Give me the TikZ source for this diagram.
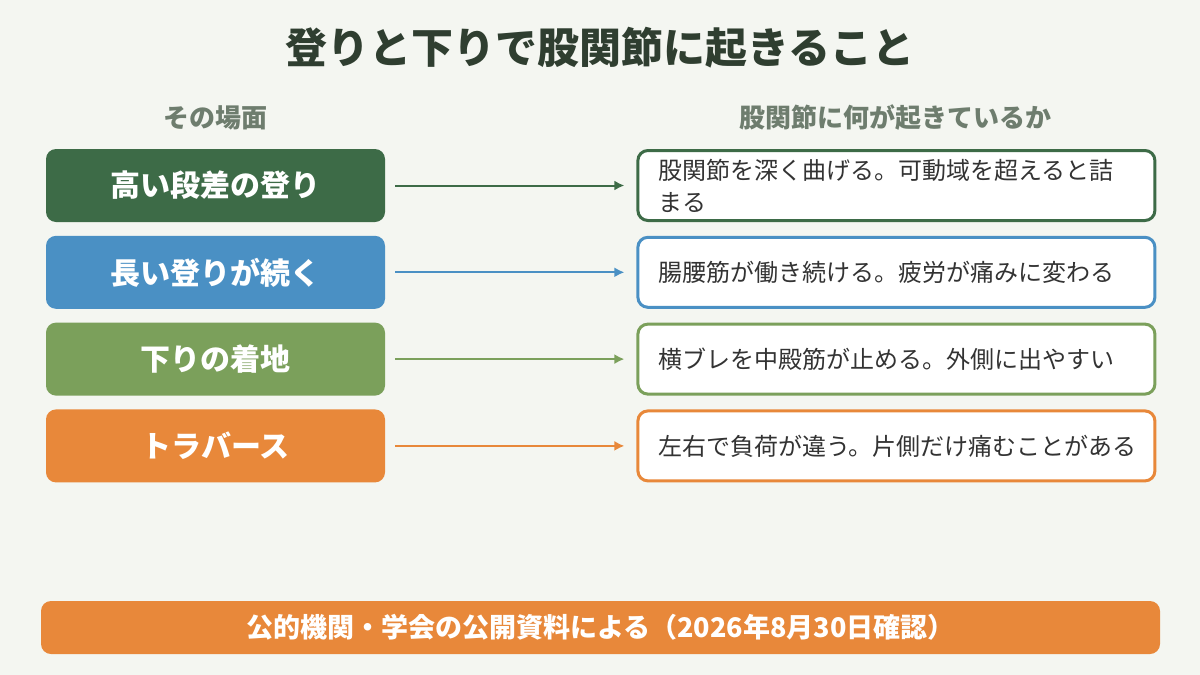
\documentclass[tikz,border=0pt]{standalone}
\usepackage{fontspec}
\setmainfont{Noto Sans CJK JP}
\usepackage{xcolor}
\usepackage{tikz}
\usetikzlibrary{arrows.meta, positioning}

\definecolor{bgpaper}{HTML}{F4F6F1}
\definecolor{titleink}{HTML}{2F3E30}
\definecolor{headink}{HTML}{6E7D6E}
\definecolor{bodyink}{HTML}{333333}
\definecolor{climbgreen}{HTML}{3D6B47}
\definecolor{longblue}{HTML}{4A90C4}
\definecolor{downgreen}{HTML}{7BA05B}
\definecolor{traverseorange}{HTML}{E8883A}

\begin{document}
\begin{tikzpicture}[
        x=0.5pt, y=-0.5pt,
        node distance=6.5pt and 125.5pt,
        scene/.style={
            rectangle,
            draw=none,
            fill=#1,
            rounded corners=5pt,
            minimum width=169.5pt,
            minimum height=36.5pt,
            text=white,
            font=\bfseries\fontsize{15}{18}\selectfont,
            align=center
        },
        effect/.style={
            rectangle,
            draw=#1,
            line width=1.5pt,
            fill=white,
            rounded corners=5pt,
            minimum width=258.5pt,
            minimum height=35pt,
            text width=238pt,
            text=bodyink,
            font=\fontsize{12}{16}\selectfont,
            align=left
        },
        header/.style={
            text=headink,
            font=\bfseries\fontsize{13}{15}\selectfont
        },
        link/.style={
            draw=#1,
            line width=1pt,
            -{Latex[length=5pt,width=5pt]},
            shorten <=5pt,
            shorten >=6pt
        }
    ]
        % Background
        \useasboundingbox[fill=bgpaper] (0,0) rectangle (1200,675);

        % Title and headers
        \node [text=titleink, font=\bfseries\fontsize{21}{25}\selectfont] (title) at (600,48) {登りと下りで股関節に起きること};
        \node [header] (scenehead) at (215,118) {その場面};
        \node [header] (hiphead) at (895,118) {股関節に何が起きているか};

        % Nodes
        \node [scene=climbgreen] (step) at (215.5,185.5) {高い段差の登り};
        \node [scene=longblue, below=of step] (longup) {長い登りが続く};
        \node [scene=downgreen, below=of longup] (landing) {下りの着地};
        \node [scene=traverseorange, below=of landing] (traverse) {トラバース};

        \node [effect=climbgreen, right=of step] (flexion) {股関節を深く曲げる。可動域を超えると詰\\まる};
        \node [effect=longblue, right=of longup] (iliopsoas) {腸腰筋が働き続ける。疲労が痛みに変わる};
        \node [effect=downgreen, right=of landing] (gluteus) {横ブレを中殿筋が止める。外側に出やすい};
        \node [effect=traverseorange, right=of traverse] (asymmetry) {左右で負荷が違う。片側だけ痛むことがある};

        % Edges
        \draw [link=climbgreen] (step) -- (flexion);
        \draw [link=longblue] (longup) -- (iliopsoas);
        \draw [link=downgreen] (landing) -- (gluteus);
        \draw [link=traverseorange] (traverse) -- (asymmetry);

        % Source note
        \node [scene=traverseorange, minimum width=559.5pt, minimum height=26.5pt, font=\bfseries\fontsize{13.5}{16}\selectfont] (source) at (600.5,627.5) {公的機関・学会の公開資料による（2026年8月30日確認）};

    \end{tikzpicture}
\end{document}
